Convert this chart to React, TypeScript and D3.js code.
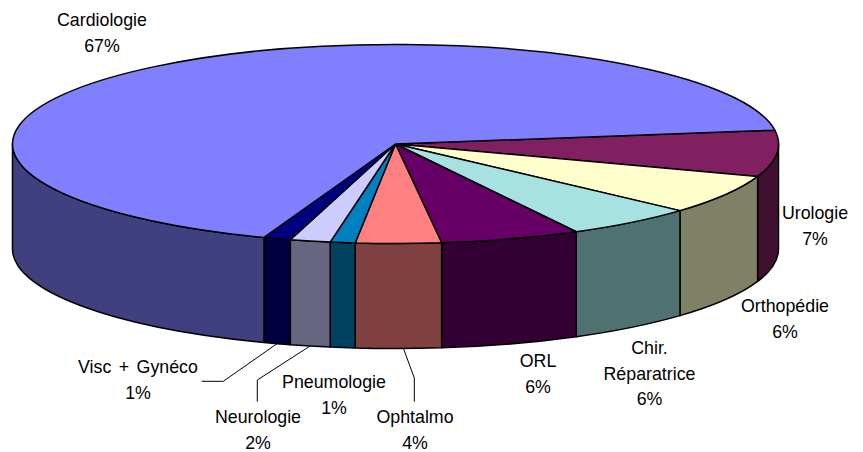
import React from "react";
import * as d3 from "d3";

// Slice order: clockwise on screen, beginning at the upper right of the disc.
const categories = ["Urologie", "Orthopédie", "Chir. Réparatrice", "ORL", "Ophtalmo", "Pneumologie", "Neurologie", "Visc + Gynéco", "Cardiologie"];
const values = [7.5, 6.4, 5.5, 5.9, 3.6, 1.05, 1.7, 1.15, 67.2];
const percentLabels = ["7%", "6%", "6%", "6%", "4%", "1%", "2%", "1%", "67%"];
const topColors = ["#802060", "#FFFFCC", "#A6E2E2", "#660066", "#FF8080", "#0080C0", "#CCCCFF", "#000080", "#8080FF"];
const sideColors = ["#401030", "#808066", "#507171", "#330033", "#804040", "#004060", "#666680", "#000040", "#404080"];

const W = 863, H = 452;
const cx = 395.5, cy = 144, rx = 383, ry = 99.5, depth = 105;
const START = (-8 * Math.PI) / 180;
const FONT = "'Liberation Sans', Arial, sans-serif";

const labelLayout: Record<string, { x: number; lines: string[]; y: number }> = {
  Urologie: { x: 815, y: 219, lines: ["Urologie"] },
  "Orthopédie": { x: 785, y: 312, lines: ["Orthopédie"] },
  "Chir. Réparatrice": { x: 649.5, y: 354, lines: ["Chir.", "Réparatrice"] },
  ORL: { x: 538, y: 367, lines: ["ORL"] },
  Ophtalmo: { x: 415, y: 423, lines: ["Ophtalmo"] },
  Pneumologie: { x: 334, y: 388, lines: ["Pneumologie"] },
  Neurologie: { x: 258, y: 423, lines: ["Neurologie"] },
  "Visc + Gynéco": { x: 138, y: 373, lines: ["Visc + Gynéco"] },
  Cardiologie: { x: 102, y: 26, lines: ["Cardiologie"] },
};

// Elbow points of the leader lines, last point is on the label side.
const leaderLayout: Record<string, { dx: number; pts: [number, number][] }> = {
  "Visc + Gynéco": { dx: 0, pts: [[223.3, 381.3], [201.7, 381.3]] },
  Neurologie: { dx: 0, pts: [[257.3, 380], [257.3, 401.7]] },
  Ophtalmo: { dx: 5, pts: [[414.3, 378], [414.3, 401.7]] },
};

const px = (t: number) => cx + rx * Math.cos(t);
const py = (t: number) => cy + ry * Math.sin(t);

function topPath(a: number, b: number) {
  const large = b - a > Math.PI ? 1 : 0;
  return `M${cx},${cy}L${px(a)},${py(a)}A${rx},${ry} 0 ${large} 1 ${px(b)},${py(b)}Z`;
}
function sidePath(a: number, b: number) {
  return `M${px(a)},${py(a)}A${rx},${ry} 0 0 1 ${px(b)},${py(b)}L${px(b)},${py(b) + depth}A${rx},${ry} 0 0 0 ${px(a)},${py(a) + depth}Z`;
}

export default function App() {
  const arcs = d3
    .pie<number>()
    .sort(null)
    .startAngle(START)
    .endAngle(START + 2 * Math.PI)(values);

  return (
    <svg width={W} height={H} style={{ position: "absolute", left: 0, top: 0, background: "#fff" }}>
      {arcs.map((d, i) => {
        const a = Math.max(d.startAngle, 0);
        const b = Math.min(d.endAngle, Math.PI);
        if (b <= a) return null;
        return <path key={i} d={sidePath(a, b)} fill={sideColors[i]} stroke="#000" strokeWidth={1.5} strokeLinejoin="round" />;
      })}
      {arcs.map((d, i) => (
        <path key={i} d={topPath(d.startAngle, d.endAngle)} fill={topColors[i]} stroke="#000" strokeWidth={1.5} strokeLinejoin="round" />
      ))}
      {arcs.map((d, i) => {
        const leader = leaderLayout[categories[i]];
        if (!leader) return null;
        const mid = (d.startAngle + d.endAngle) / 2;
        const line = d3.line()([[px(mid) + leader.dx, py(mid) + depth], ...leader.pts]);
        return <path key={i} d={line ?? ""} fill="none" stroke="#000" strokeWidth={1} />;
      })}
      {categories.map((c, i) => {
        const l = labelLayout[c];
        return (
          <text key={c} textAnchor="middle" fontFamily={FONT} fontSize={17.8} wordSpacing={2.5} fill="#000">
            {[...l.lines, percentLabels[i]].map((t, j) => (
              <tspan key={j} x={l.x} y={l.y + j * 25.7}>{t}</tspan>
            ))}
          </text>
        );
      })}
    </svg>
  );
}
